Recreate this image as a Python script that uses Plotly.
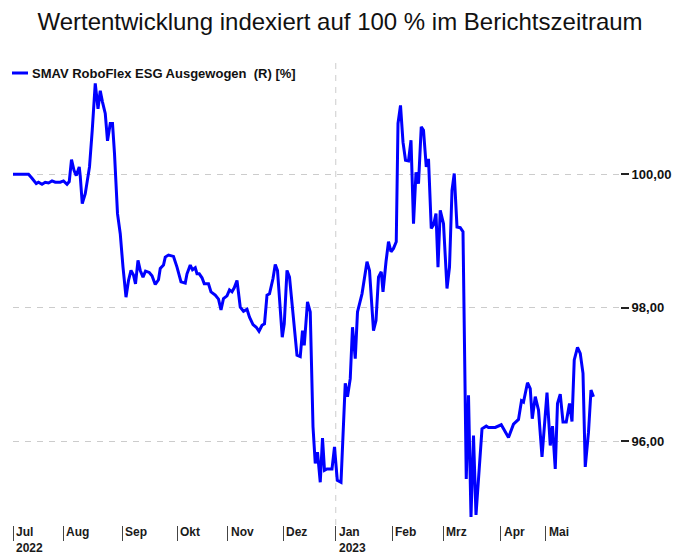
import plotly.graph_objects as go

# ---------------- data ----------------
chart_title = "Wertentwicklung indexiert auf 100 % im Berichtszeitraum"
series_name = "SMAV RoboFlex ESG Ausgewogen\u00a0 (R) [%]"

# trading-day index (0 = start of July 2022) and indexed value
day_index = [
    0, 6.2, 7.6, 9.3, 10.2, 11.6, 12.9, 14.2, 15.6, 16.9, 18.9, 20.2, 21.6, 22.5,
    23.4, 24.4, 25.3, 26.5, 26.9, 27.7, 28.9, 29.8, 30.6, 31.7, 32.9, 34.0, 34.9,
    35.8, 36.9, 37.8, 38.9, 39.8, 40.6, 41.8, 42.9, 44.0, 45.2, 46.2, 47.2, 48.2,
    49.0, 50.0, 50.9, 52.0, 53.0, 54.5, 55.6, 56.9, 58.2, 58.9, 60.2, 60.9, 62.2,
    64.2, 65.6, 67.2, 68.9, 69.6, 70.9, 71.8, 72.9, 73.6, 74.5, 75.6, 76.5, 78.2,
    79.2, 80.9, 82.2, 83.2, 84.2, 85.6, 86.6, 87.6, 88.5, 89.6, 90.9, 92.2, 93.6,
    94.6, 96.0, 97.3, 98.4, 99.6, 100.6, 101.6, 102.6, 104.0, 104.9, 105.8, 106.6,
    107.7, 108.5, 109.6, 110.6, 112.2, 113.6, 114.9, 115.8, 116.5, 117.8, 118.9,
    120.0, 120.9, 121.8, 122.9, 123.8, 124.6, 125.6, 127.6, 128.6, 129.7, 131.2,
    132.9, 133.8, 134.9, 135.8, 136.9, 137.8, 139.6, 141.6, 142.6, 144.2, 145.2,
    146.2, 147.3, 148.0, 149.2, 150.2, 151.2, 152.2, 153.3, 154.0, 155.0, 156.0,
    157.0, 158.2, 159.2, 160.2, 161.2, 162.2, 163.3, 164.2, 165.3, 166.2, 167.3,
    168.2, 169.2, 170.0, 170.9, 172.2, 173.6, 174.6, 175.6, 176.5, 177.6, 178.9,
    180.0, 181.3, 182.2, 183.2, 184.2, 185.2, 187.6, 189.3, 190.2, 192.9, 195.3,
    196.2, 198.2, 200.2, 202.2, 203.4, 204.2, 205.8, 206.9, 207.7, 208.9, 210.2,
    211.6, 213.6, 214.9, 215.8, 216.9, 217.8, 218.9, 220.0, 221.3, 222.6, 223.6,
    224.5, 225.8, 226.9, 228.0, 228.9, 230.2, 231.2, 232.2,
]
index_value = [
    100.00, 100.00, 99.94, 99.86, 99.88, 99.85, 99.88, 99.87, 99.90, 99.88, 99.88, 99.90, 99.85, 99.89,
    100.22, 100.06, 99.98, 100.11, 99.97, 99.56, 99.71, 99.91, 100.11, 100.66, 101.36, 100.98, 101.25,
    101.08, 100.91, 100.50, 100.76, 100.76, 100.31, 99.41, 99.11, 98.61, 98.16, 98.41, 98.56, 98.49,
    98.36, 98.71, 98.56, 98.46, 98.55, 98.53, 98.48, 98.35, 98.42, 98.59, 98.64, 98.76, 98.79,
    98.77, 98.61, 98.39, 98.37, 98.51, 98.64, 98.57, 98.60, 98.51, 98.51, 98.45, 98.36, 98.36,
    98.24, 98.19, 98.13, 97.97, 98.14, 98.18, 98.27, 98.24, 98.30, 98.41, 98.01, 97.95, 97.98,
    97.86, 97.75, 97.71, 97.65, 97.74, 97.76, 98.19, 98.21, 98.44, 98.65, 98.56, 98.11,
    97.56, 97.76, 98.56, 98.46, 97.81, 97.29, 97.27, 97.66, 97.44, 98.09, 97.94,
    96.22, 95.67, 95.84, 95.39, 96.05, 95.57, 95.59, 95.59, 95.92, 95.42, 95.39,
    96.87, 96.67, 96.94, 97.71, 97.24, 97.94, 98.21, 98.69, 98.56, 97.66, 97.81,
    98.46, 98.54, 98.24, 98.69, 98.99, 98.84, 98.89, 98.99, 100.76, 101.03, 100.48,
    100.21, 100.20, 100.51, 99.26, 100.03, 99.86, 100.71, 100.66, 100.11, 100.23, 99.19,
    99.24, 99.41, 98.61, 99.46, 99.26, 98.29, 98.61, 99.76, 100.01, 99.21, 99.20,
    99.14, 95.44, 96.69, 94.87, 96.09, 94.90, 96.19, 96.23, 96.21, 96.21, 96.25,
    96.19, 96.06, 96.26, 96.33, 96.61, 96.59, 96.88, 96.79, 96.34, 96.67, 96.47,
    95.77, 96.73, 95.94, 96.23, 95.59, 96.57, 96.71, 96.29, 96.29, 96.57, 96.30,
    97.22, 97.41, 97.32, 97.02, 95.62, 96.14, 96.77, 96.67,
]

month_pos = [0, 20, 43.6, 65.6, 85.8, 108, 129.1, 151.7, 172.1, 195, 213.1]
month_labels = ["Jul<br>2022", "Aug", "Sep", "Okt", "Nov", "Dez",
                "Jan<br>2023", "Feb", "Mrz", "Apr", "Mai"]
year_break = 129.1
y_ticks = [96, 98, 100]

# ---------------- figure ----------------
FONT = "Liberation Sans, Arial, sans-serif"
PAGE_OFF = 8                      # default body margin of the html page
W, H = 681 - PAGE_OFF, 555 - PAGE_OFF
ML, MR, MT, MB = 13 - PAGE_OFF, 61, 62 - PAGE_OFF, 30
PW = W - ML - MR
PH = H - MT - MB


def px_x(page_x):
    return (page_x - PAGE_OFF - ML) / PW


def px_y(page_y):
    return (H - MB - (page_y - PAGE_OFF)) / PH


fig = go.Figure()
fig.add_trace(go.Scatter(
    x=day_index, y=index_value, mode="lines", name=series_name,
    line=dict(color="#0000ff", width=3), showlegend=False,
))

annotations = []
for pos, lab in zip(month_pos, month_labels):
    annotations.append(dict(
        x=pos, y=0, xref="x", yref="paper", text=lab, showarrow=False,
        xanchor="left", yanchor="top", align="left", xshift=1, yshift=2,
        font=dict(family=FONT, size=12, color="#1a1a1a", weight="bold"),
    ))

# legend-like key (top left)
key_y = px_y(73)
annotations.append(dict(
    x=px_x(30), y=key_y, xref="paper", yref="paper", text=series_name,
    showarrow=False, xanchor="left", yanchor="middle",
    font=dict(family=FONT, size=13, color="#111111", weight="bold"),
))

fig.update_layout(
    width=W, height=H,
    margin=dict(l=ML, r=MR, t=MT, b=MB, autoexpand=False),
    paper_bgcolor="white", plot_bgcolor="white",
    separators=",.",
    title=dict(text=chart_title, x=(340 - PAGE_OFF) / W, xref="container",
               xanchor="center", y=1 - (22 - PAGE_OFF) / H, yref="container",
               yanchor="middle",
               font=dict(family=FONT, size=24, color="#111111")),
    showlegend=False,
    xaxis=dict(range=[0, 242.8], tickvals=month_pos, showticklabels=False,
               ticks="outside", ticklen=15, tickwidth=1, tickcolor="#444444",
               showgrid=False, zeroline=False, showline=False, fixedrange=True),
    yaxis=dict(side="right", range=[94.75, 101.68], tickvals=y_ticks,
               tickformat=".2f", ticks="outside", ticklen=8, tickwidth=1.5,
               tickcolor="#222222", showgrid=True, gridcolor="#cccccc",
               gridwidth=1, griddash="6px,6px", zeroline=False, showline=False,
               tickfont=dict(family=FONT, size=13, color="#111111", weight="bold")),
    shapes=[
        dict(type="line", xref="x", yref="paper", x0=year_break, x1=year_break,
             y0=0, y1=1, line=dict(color="#cccccc", width=1, dash="6px,6px"),
             layer="below"),
        dict(type="line", xref="paper", yref="paper",
             x0=px_x(12), x1=px_x(28), y0=key_y, y1=key_y,
             line=dict(color="#0000ff", width=3)),
    ],
    annotations=annotations,
)

fig.write_html("out.html")
